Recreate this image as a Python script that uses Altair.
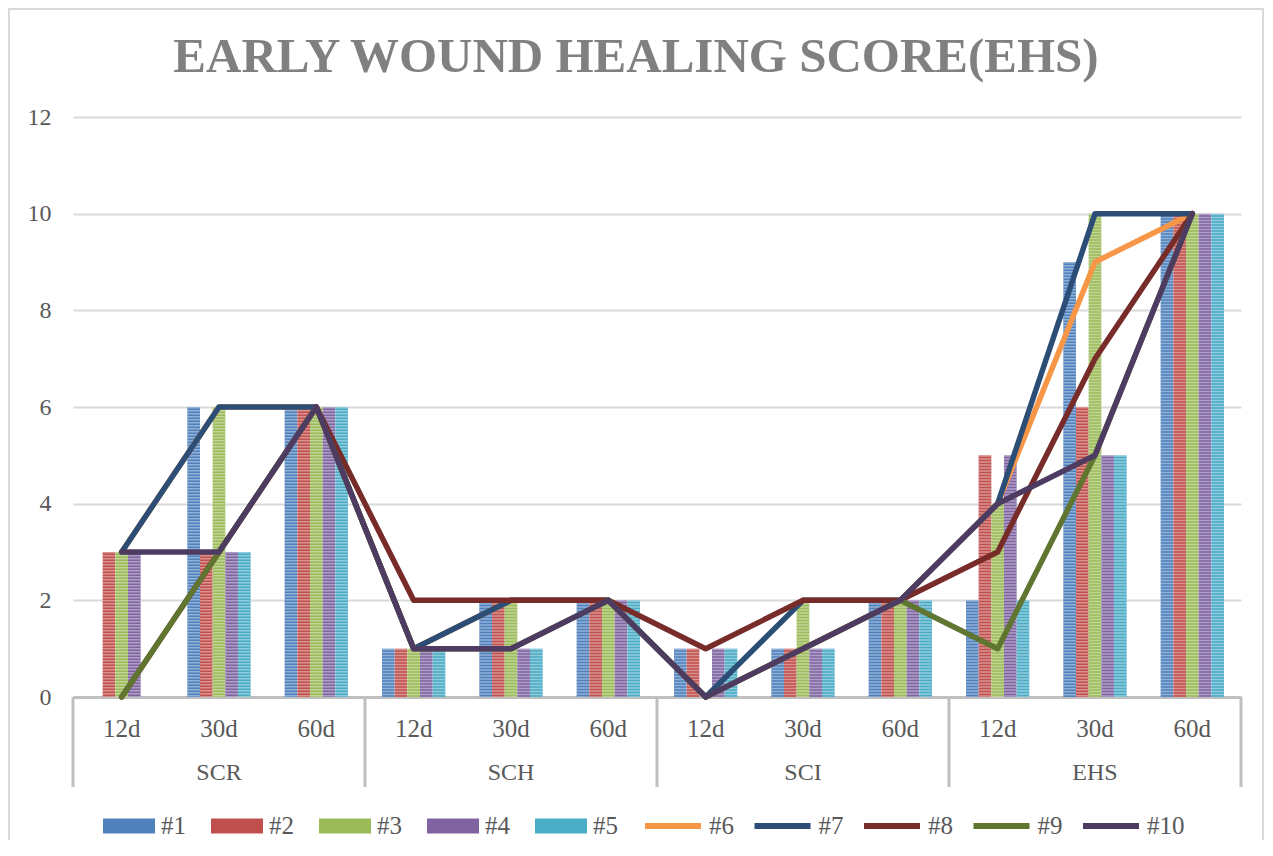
import altair as alt
import pandas as pd

groups = ["SCR", "SCH", "SCI", "EHS"]
times = ["12d", "30d", "60d"]
bar_series = ["#1", "#2", "#3", "#4", "#5"]
line_series = ["#6", "#7", "#8", "#9", "#10"]

# bar series (values per category: SCR 12/30/60, SCH 12/30/60, SCI 12/30/60, EHS 12/30/60)
s1 = [0, 6, 6, 1, 2, 2, 1, 1, 2, 2, 9, 10]
s2 = [3, 3, 6, 1, 2, 2, 1, 1, 2, 5, 6, 10]
s3 = [3, 6, 6, 1, 2, 2, 0, 2, 2, 4, 10, 10]
s4 = [3, 3, 6, 1, 1, 2, 1, 1, 2, 5, 5, 10]
s5 = [0, 3, 6, 1, 1, 2, 1, 1, 2, 2, 5, 10]

# line series
s6 = [3, 6, 6, 1, 2, 2, 0, 1, 2, 4, 9, 10]
s7 = [3, 6, 6, 1, 2, 2, 0, 2, 2, 4, 10, 10]
s8 = [0, 3, 6, 2, 2, 2, 1, 2, 2, 3, 7, 10]
s9 = [0, 3, 6, 1, 1, 2, 0, 1, 2, 1, 5, 10]
s10 = [3, 3, 6, 1, 1, 2, 0, 1, 2, 4, 5, 10]

y_ticks = [0, 2, 4, 6, 8, 10, 12]

bar_colors = ["#4f81bd", "#c0504d", "#9bbb59", "#8064a2", "#4bacc6"]
line_colors = ["#f79646", "#2c4d75", "#772c2a", "#5f7530", "#4d3b62"]

cats = [f"{g}|{t}" for g in groups for t in times]

bar_vals = [s1, s2, s3, s4, s5]
line_vals = [s6, s7, s8, s9, s10]

bar_df = pd.DataFrame(
    [{"cat": c, "series": s, "value": v}
     for s, vals in zip(bar_series, bar_vals) for c, v in zip(cats, vals)]
)
line_df = pd.DataFrame(
    [{"cat": c, "series": s, "value": v, "order": i}
     for s, vals in zip(line_series, line_vals) for i, (c, v) in enumerate(zip(cats, vals))]
)
group_df = pd.DataFrame({"cat": [f"{g}|30d" for g in groups], "group": groups})
start_df = pd.DataFrame({"cat": [f"{g}|12d" for g in groups]})
end_df = pd.DataFrame({"cat": [cats[-1]]})

W, H = 1168, 580
FONT = "Liberation Serif"
GRAY = "#595959"

xscale = alt.Scale(domain=cats, paddingInner=0, paddingOuter=0)
yscale = alt.Scale(domain=[0, 12], nice=False)
offscale = alt.Scale(domain=bar_series, range=[17, 80.3], paddingInner=0, paddingOuter=0)


def X(**kw):
    return alt.X("cat:N", scale=xscale, title=None, **kw)


def Y(field="value:Q"):
    return alt.Y(field, scale=yscale, title=None,
                 axis=alt.Axis(values=y_ticks))


frame = alt.Chart(pd.DataFrame({"a": [0]})).mark_rect(
    filled=False, stroke="#d9d9d9", strokeWidth=2
).encode(
    x=alt.value(-64), x2=alt.value(1190), y=alt.value(-108), y2=alt.value(800)
)

bars = alt.Chart(bar_df).mark_bar().encode(
    x=X(axis=alt.Axis(labelExpr="split(datum.label, '|')[1]")),
    xOffset=alt.XOffset("series:N", scale=offscale),
    y=Y(),
    fill=alt.Fill(
        "series:N",
        scale=alt.Scale(domain=bar_series, range=bar_colors),
        legend=alt.Legend(
            title=None, orient="none", legendX=30, legendY=683, direction="horizontal",
            symbolType="M-1,-0.29H1V0.29H-1Z", symbolSize=2704, symbolStrokeWidth=0,
            labelFontSize=25, labelOffset=6, columnPadding=25, padding=0,
            labelColor=GRAY, labelFont=FONT, gridAlign="none",
        ),
    ),
)

stripes = alt.Chart(bar_df).mark_rule(
    color="white", opacity=0.38, strokeWidth=12.67, strokeDash=[1.5, 1.5], strokeCap="butt"
).encode(
    x=X(),
    xOffset=alt.XOffset("series:N", scale=offscale),
    y=Y(),
    y2=alt.datum(0),
)

line_layers = []
for s in line_series:
    line_layers.append(
        alt.Chart(line_df[line_df["series"] == s]).mark_line(
            strokeWidth=5.5, strokeJoin="round", strokeCap="round"
        ).encode(
            x=X(),
            y=Y(),
            order="order:Q",
            stroke=alt.Stroke(
                "series:N",
                scale=alt.Scale(domain=line_series, range=line_colors),
                legend=alt.Legend(
                    title=None, orient="none", legendX=569, legendY=678, direction="horizontal",
                    symbolType="stroke", symbolSize=3136, symbolStrokeWidth=6,
                    labelFontSize=25, labelOffset=5, columnPadding=8.5, padding=0,
                    labelColor=GRAY, labelFont=FONT, gridAlign="none",
                ),
            ),
        )
    )

group_text = alt.Chart(group_df).mark_text(
    font=FONT, fontSize=24, color=GRAY, baseline="alphabetic", align="center"
).encode(
    x=X(), y=alt.value(663), text="group:N"
)

sep_start = alt.Chart(start_df).mark_rule(color="#bfbfbf", strokeWidth=3).encode(
    x=alt.X("cat:N", scale=xscale, title=None, bandPosition=0),
    y=alt.value(H), y2=alt.value(670),
)
sep_end = alt.Chart(end_df).mark_rule(color="#bfbfbf", strokeWidth=3).encode(
    x=alt.X("cat:N", scale=xscale, title=None, bandPosition=1),
    y=alt.value(H), y2=alt.value(670),
)

chart = alt.layer(
    frame, bars, stripes, *line_layers, group_text, sep_start, sep_end
).properties(
    width=W, height=H,
    padding={"left": 65, "top": 109, "right": 24, "bottom": 143},
    autosize="none",
    title=alt.TitleParams(
        "EARLY WOUND HEALING SCORE(EHS)",
        font=FONT, fontSize=49, fontWeight="bold", color="#808080",
        anchor="middle", dx=-21, baseline="alphabetic", offset=-113,
    ),
).configure(
    font=FONT
).configure_view(
    stroke=None
).configure_axisX(
    domainColor="#bfbfbf", domainWidth=3, ticks=False, tickSize=0, grid=False,
    labelFont=FONT, labelFontSize=25, labelColor=GRAY, labelAngle=0,
    labelBaseline="alphabetic", labelPadding=39,
).configure_axisY(
    domain=False, ticks=False, tickSize=0, gridColor="#d9d9d9", gridWidth=2,
    labelFont=FONT, labelFontSize=24, labelColor=GRAY, labelPadding=22,
)

chart.save("out.html", embed_options={"renderer": "svg", "actions": False})
